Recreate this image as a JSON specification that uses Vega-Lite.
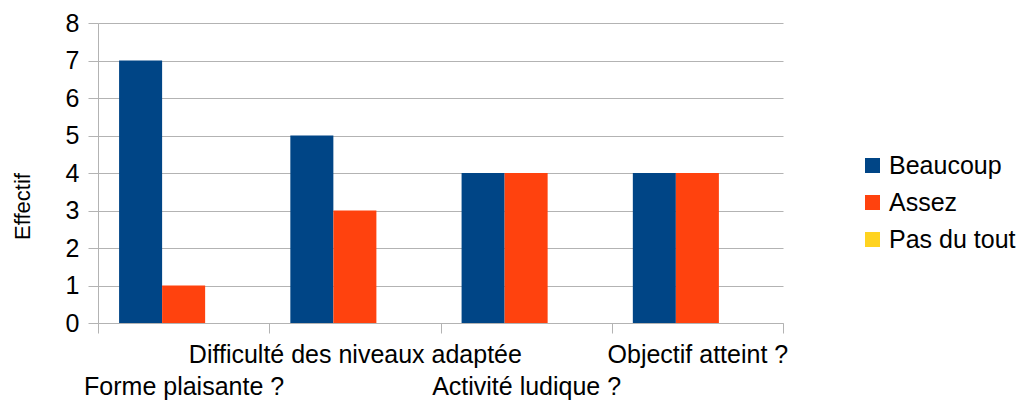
{
  "$schema": "https://vega.github.io/schema/vega-lite/v6.json",
  "autosize": {"type": "none"},
  "padding": {"left": 98, "top": 23, "right": 240, "bottom": 80},
  "width": 685,
  "height": 300,
  "background": "white",
  "config": {
    "font": "Liberation Sans",
    "view": {"stroke": null}
  },
  "data": {
    "values": [
      {"cat": "Forme plaisante ?", "rep": "Beaucoup", "n": 7},
      {"cat": "Forme plaisante ?", "rep": "Assez", "n": 1},
      {"cat": "Forme plaisante ?", "rep": "Pas du tout", "n": 0},
      {"cat": "Difficulté des niveaux adaptée", "rep": "Beaucoup", "n": 5},
      {"cat": "Difficulté des niveaux adaptée", "rep": "Assez", "n": 3},
      {"cat": "Difficulté des niveaux adaptée", "rep": "Pas du tout", "n": 0},
      {"cat": "Activité ludique ?", "rep": "Beaucoup", "n": 4},
      {"cat": "Activité ludique ?", "rep": "Assez", "n": 4},
      {"cat": "Activité ludique ?", "rep": "Pas du tout", "n": 0},
      {"cat": "Objectif atteint ?", "rep": "Beaucoup", "n": 4},
      {"cat": "Objectif atteint ?", "rep": "Assez", "n": 4},
      {"cat": "Objectif atteint ?", "rep": "Pas du tout", "n": 0}
    ]
  },
  "mark": {"type": "bar"},
  "encoding": {
    "x": {
      "field": "cat",
      "type": "nominal",
      "sort": ["Forme plaisante ?", "Difficulté des niveaux adaptée", "Activité ludique ?", "Objectif atteint ?"],
      "scale": {"paddingInner": 0, "paddingOuter": 0},
      "axis": {
        "title": null,
        "labelAngle": 0,
        "labelFontSize": 25,
        "labelColor": "black",
        "labelLimit": 0,
        "labelOverlap": false,
        "tickBand": "extent",
        "tickSize": 10,
        "tickColor": "#b3b3b3",
        "domainColor": "#b3b3b3",
        "labelPadding": {"expr": "indexof(['Difficulté des niveaux adaptée','Objectif atteint ?'], datum.value) >= 0 ? 9 : 41"},
        "labelBaseline": "top"
      }
    },
    "xOffset": {
      "field": "rep",
      "type": "nominal",
      "sort": ["Beaucoup", "Assez", "Pas du tout"],
      "scale": {"paddingInner": 0, "paddingOuter": 0.49}
    },
    "y": {
      "field": "n",
      "type": "quantitative",
      "scale": {"domain": [0, 8], "nice": false},
      "axis": {
        "title": "Effectif",
        "titleFontSize": 22,
        "titleFontWeight": "normal",
        "titleColor": "black",
        "titleX": -76,
        "titleY": 183,
        "titleAngle": -90,
        "titleAlign": "center",
        "titleBaseline": "middle",
        "values": [0, 1, 2, 3, 4, 5, 6, 7, 8],
        "labelFontSize": 25,
        "labelColor": "black",
        "labelPadding": 9,
        "tickSize": 10,
        "tickColor": "#b3b3b3",
        "domainColor": "#b3b3b3",
        "gridColor": "#b3b3b3",
        "grid": true
      }
    },
    "color": {
      "field": "rep",
      "type": "nominal",
      "sort": ["Beaucoup", "Assez", "Pas du tout"],
      "scale": {"domain": ["Beaucoup", "Assez", "Pas du tout"], "range": ["#004586", "#ff420e", "#ffd320"]},
      "legend": {
        "title": null,
        "orient": "none",
        "legendX": 762,
        "legendY": 130,
        "symbolType": "square",
        "symbolSize": 225,
        "symbolStrokeWidth": 0,
        "labelFontSize": 25,
        "labelColor": "black",
        "labelOffset": 4,
        "rowPadding": 11
      }
    }
  }
}
